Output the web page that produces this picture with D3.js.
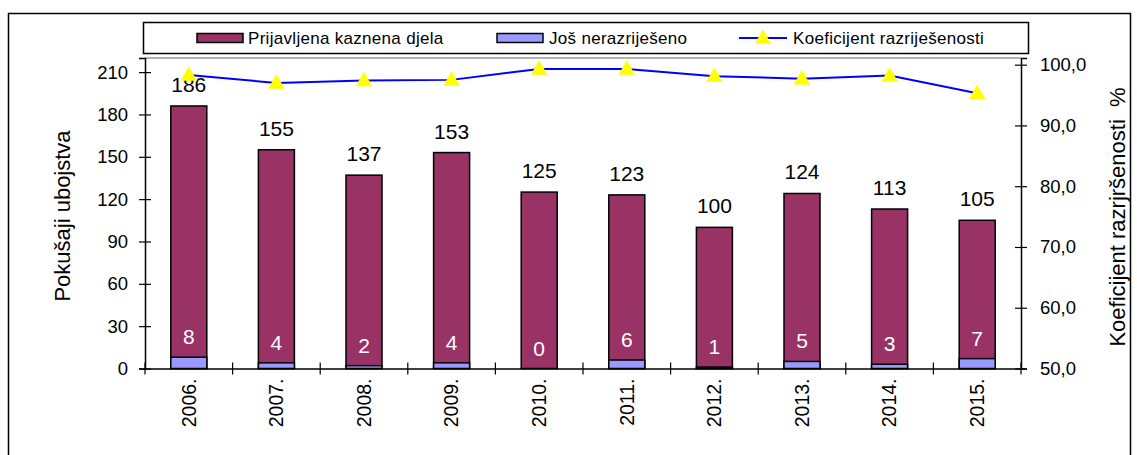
<!DOCTYPE html>
<html>
<head>
<meta charset="utf-8">
<title>Pokušaji ubojstva</title>
<style>
    body { margin: 0; background: #fff; }
    svg text { font-family: "Liberation Sans", Arial, sans-serif; }
</style>
</head>
<body>
<script src="https://cdn.jsdelivr.net/npm/d3@7"></script>
<script>
    // data
    var years = ["2006.", "2007.", "2008.", "2009.", "2010.", "2011.", "2012.", "2013.", "2014.", "2015."];
    var prijavljena = [186, 155, 137, 153, 125, 123, 100, 124, 113, 105];
    var nerazrijeseno = [8, 4, 2, 4, 0, 6, 1, 5, 3, 7];
    var koeficijent = [98.3, 97.0, 97.4, 97.5, 99.3, 99.3, 98.1, 97.7, 98.2, 95.3];
    var leftTicks = [0, 30, 60, 90, 120, 150, 180, 210];
    var rightTicks = [50, 60, 70, 80, 90, 100];

    var W = 1137, H = 455;
    var plot = { left: 145, top: 58, right: 1021, bottom: 368.5 };
    var pw = plot.right - plot.left, ph = plot.bottom - plot.top;

    var svg = d3.select("body").append("svg")
        .attr("width", W).attr("height", H);

    // outer frame
    svg.append("rect")
        .attr("x", 8.5).attr("y", 13.5)
        .attr("width", 1122).attr("height", 470)
        .attr("fill", "none").attr("stroke", "#000").attr("stroke-width", 1.5);

    var g = svg.append("g")
        .attr("transform", "translate(" + plot.left + "," + plot.top + ")");

    var x = d3.scaleBand().domain(years).range([0, pw]).padding(0);
    var yL = d3.scaleLinear().domain([0, 220]).range([ph, 0]);
    var yR = d3.scaleLinear().domain([50, 101.1]).range([ph, 0]);
    var barW = 36;

    var comma = d3.formatLocale({ decimal: ",", thousands: ".", grouping: [3], currency: ["", ""] });

    // plot area top border
    g.append("line")
        .attr("x1", 0).attr("x2", pw).attr("y1", 0).attr("y2", 0)
        .attr("stroke", "#999").attr("stroke-width", 1.5);

    // bars
    g.selectAll(".bar1").data(prijavljena).enter().append("rect")
        .attr("x", function (d, i) { return x(years[i]) + x.bandwidth() / 2 - barW / 2; })
        .attr("y", function (d) { return yL(d); })
        .attr("width", barW)
        .attr("height", function (d) { return ph - yL(d); })
        .attr("fill", "#993366").attr("stroke", "#000").attr("stroke-width", 1.5);

    g.selectAll(".bar2").data(nerazrijeseno).enter().append("rect")
        .attr("x", function (d, i) { return x(years[i]) + x.bandwidth() / 2 - barW / 2; })
        .attr("y", function (d) { return yL(d); })
        .attr("width", barW)
        .attr("height", function (d) { return ph - yL(d); })
        .attr("fill", "#9999ff").attr("stroke", "#000").attr("stroke-width", 1.5);

    // left axis
    var axL = g.append("g")
        .call(d3.axisLeft(yL).tickValues(leftTicks).tickSizeOuter(0).tickSize(6).tickPadding(11));
    axL.select(".domain").attr("stroke-width", 1.5);
    axL.selectAll(".tick line").attr("x1", -6).attr("x2", 6).attr("stroke-width", 1.2);
    axL.selectAll("text").style("font-size", "18.5px").attr("fill", "#000");

    // right axis
    var axR = g.append("g").attr("transform", "translate(" + pw + ",0)")
        .call(d3.axisRight(yR).tickValues(rightTicks).tickFormat(comma.format(".1f")).tickSizeOuter(0).tickSize(6).tickPadding(13));
    axR.select(".domain").attr("stroke-width", 1.5);
    axR.selectAll(".tick line").attr("x1", -6).attr("x2", 6).attr("stroke-width", 1.2);
    axR.selectAll("text").style("font-size", "18.5px").attr("fill", "#000");

    // bottom axis: labels at band centre, ticks at band edges
    var axB = g.append("g").attr("transform", "translate(0," + ph + ")")
        .call(d3.axisBottom(x).tickSize(0).tickSizeOuter(0));
    axB.select(".domain").attr("stroke-width", 1.5);
    axB.selectAll("text")
        .style("font-size", "19.5px").attr("fill", "#000")
        .style("text-anchor", "end")
        .attr("x", 0).attr("y", 0)
        .attr("dx", "-10px").attr("dy", ".35em")
        .attr("transform", "rotate(-90)");
    var edges = years.map(function (d) { return x(d); }).concat([pw]);
    g.selectAll(".xtick").data(edges).enter().append("line")
        .attr("x1", function (d) { return d; }).attr("x2", function (d) { return d; })
        .attr("y1", ph - 6).attr("y2", ph + 6)
        .attr("stroke", "#000").attr("stroke-width", 1.2);

    // value labels
    g.selectAll(".lab1").data(prijavljena).enter().append("text")
        .attr("x", function (d, i) { return x(years[i]) + x.bandwidth() / 2; })
        .attr("y", function (d) { return yL(d) - 14; })
        .attr("text-anchor", "middle")
        .style("font-size", "21px")
        .text(function (d) { return d; });

    g.selectAll(".lab2").data(nerazrijeseno).enter().append("text")
        .attr("x", function (d, i) { return x(years[i]) + x.bandwidth() / 2; })
        .attr("y", function (d) { return yL(d) - 13; })
        .attr("text-anchor", "middle")
        .attr("fill", "#fff")
        .style("font-size", "21px")
        .text(function (d) { return d; });

    // coefficient line
    var line = d3.line()
        .x(function (d, i) { return x(years[i]) + x.bandwidth() / 2; })
        .y(function (d) { return yR(d); });
    g.append("path").datum(koeficijent)
        .attr("d", line)
        .attr("fill", "none").attr("stroke", "#0000ff").attr("stroke-width", 2);
    var tri = d3.symbol().type(d3.symbolTriangle).size(120);
    g.selectAll(".mark").data(koeficijent).enter().append("path")
        .attr("d", tri)
        .attr("transform", function (d, i) {
            return "translate(" + (x(years[i]) + x.bandwidth() / 2) + "," + (yR(d) + 1) + ")";
        })
        .attr("fill", "#ffff00");

    // axis titles
    svg.append("text")
        .attr("transform", "translate(70,216) rotate(-90)")
        .attr("text-anchor", "middle")
        .style("font-size", "22px")
        .text("Pokušaji ubojstva");
    svg.append("text")
        .attr("transform", "translate(1125,217) rotate(-90)")
        .attr("text-anchor", "middle")
        .style("font-size", "22px")
        .style("white-space", "pre")
        .text("Koeficijent razrjršenosti  %");

    // legend
    var lg = svg.append("g");
    lg.append("rect")
        .attr("x", 143.5).attr("y", 22.5).attr("width", 885).attr("height", 31)
        .attr("fill", "#fff").attr("stroke", "#000").attr("stroke-width", 1.5);
    lg.append("rect").attr("x", 197).attr("y", 33.5).attr("width", 46).attr("height", 9)
        .attr("fill", "#993366").attr("stroke", "#000").attr("stroke-width", 1.5);
    lg.append("text").attr("x", 248).attr("y", 44).style("font-size", "17px").style("letter-spacing", "0.3px")
        .text("Prijavljena kaznena djela");
    lg.append("rect").attr("x", 497).attr("y", 33.5).attr("width", 46).attr("height", 9)
        .attr("fill", "#9999ff").attr("stroke", "#000").attr("stroke-width", 1.5);
    lg.append("text").attr("x", 549).attr("y", 44).style("font-size", "17px").style("letter-spacing", "0.3px")
        .text("Još nerazriješeno");
    lg.append("line").attr("x1", 739).attr("x2", 787).attr("y1", 38).attr("y2", 38)
        .attr("stroke", "#0000ff").attr("stroke-width", 2);
    lg.append("path").attr("d", tri).attr("transform", "translate(763,39)").attr("fill", "#ffff00");
    lg.append("text").attr("x", 793).attr("y", 44).style("font-size", "17px").style("letter-spacing", "0.3px")
        .text("Koeficijent razriješenosti");
</script>
</body>
</html>
